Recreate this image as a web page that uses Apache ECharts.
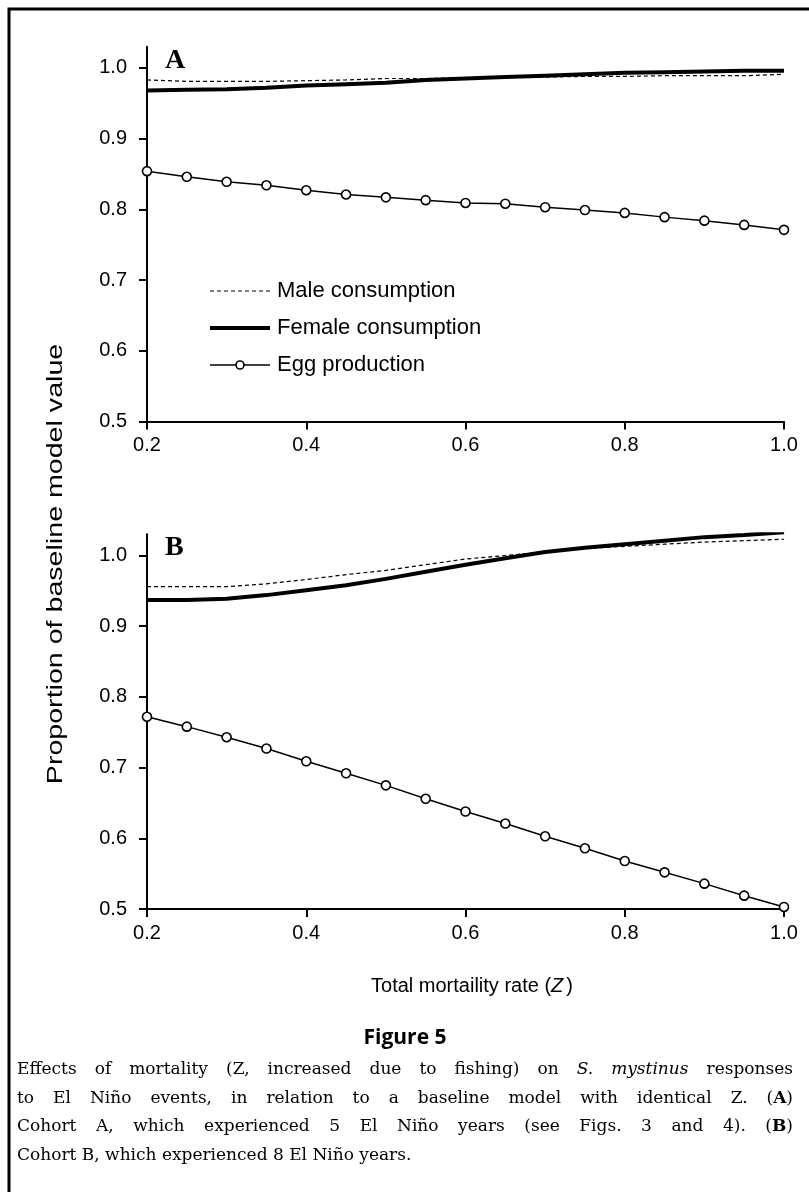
<!DOCTYPE html>
<html><head><meta charset="utf-8">
<script src="https://cdn.jsdelivr.net/npm/echarts@6/dist/echarts.min.js"></script>
<style>html,body{margin:0;padding:0;background:#fff}#c{width:809px;height:1192px}</style>
</head><body><div id="c"></div>
<script>
// ---- data ----
const zValues = [0.2,0.25,0.3,0.35,0.4,0.45,0.5,0.55,0.6,0.65,0.7,0.75,0.8,0.85,0.9,0.95,1.0];
const maleA   = [0.983,0.981,0.981,0.981,0.982,0.983,0.985,0.985,0.986,0.987,0.987,0.988,0.988,0.989,0.989,0.989,0.991];
const femaleA = [0.968,0.969,0.970,0.972,0.975,0.977,0.979,0.983,0.985,0.987,0.989,0.991,0.993,0.994,0.995,0.996,0.996];
const eggA    = [0.854,0.846,0.839,0.834,0.827,0.821,0.817,0.813,0.809,0.808,0.803,0.799,0.795,0.789,0.784,0.778,0.771];
const maleB   = [0.956,0.956,0.956,0.960,0.966,0.973,0.979,0.987,0.995,1.000,1.005,1.010,1.013,1.016,1.019,1.021,1.023];
const femaleB = [0.937,0.937,0.939,0.944,0.951,0.958,0.967,0.977,0.987,0.996,1.005,1.011,1.016,1.021,1.026,1.029,1.033];
const eggB    = [0.772,0.758,0.743,0.727,0.709,0.692,0.675,0.656,0.638,0.621,0.603,0.586,0.568,0.552,0.536,0.519,0.503];
const xTicks = [0.2,0.4,0.6,0.8,1.0];
const yTicks = [0.5,0.6,0.7,0.8,0.9,1.0];
const seriesNames = ['Male consumption','Female consumption','Egg production'];
const panelLabels = ['A','B'];
const yAxisTitle = 'Proportion of baseline model value';
const figureTitle = 'Figure 5';
const captionLines = [
  'Effects of mortality (Z, increased due to fishing) on {i|S.} {i|mystinus} responses',
  'to El Niño events, in relation to a baseline model with identical Z. ({b|A})',
  'Cohort A, which experienced 5 El Niño years (see Figs. 3 and 4). ({b|B})',
  'Cohort B, which experienced 8 El Niño years.'
];

const pair = arr => zValues.map((z,i)=>[z, arr[i]]);
const chart = echarts.init(document.getElementById('c'), null, {renderer:'canvas'});
const SANS = 'Liberation Sans';

function xAxis(i){
  return {type:'value', gridIndex:i, min:0.2, max:1.0,
    axisLine:{show:true, onZero:false, lineStyle:{color:'#000', width:2}},
    axisTick:{show:true, length:8, customValues:xTicks, lineStyle:{color:'#000', width:2}},
    axisLabel:{customValues:xTicks, formatter:v=>v.toFixed(1), color:'#000', fontSize:20, fontFamily:SANS, margin:14},
    splitLine:{show:false}};
}
function yAxis(i){
  return {type:'value', gridIndex:i, min:0.5, max:1.03,
    axisLine:{show:true, lineStyle:{color:'#000', width:2}},
    axisTick:{show:true, length:8, customValues:yTicks, lineStyle:{color:'#000', width:2}},
    axisLabel:{customValues:yTicks, formatter:v=>v.toFixed(1), color:'#000', fontSize:20, fontFamily:SANS, margin:20},
    splitLine:{show:false}};
}
function seriesFor(i, male, female, egg){
  return [
    {name:seriesNames[0], type:'line', xAxisIndex:i, yAxisIndex:i, data:pair(male), symbol:'none', color:'#000',
     lineStyle:{color:'#000', width:1.2, type:[4,3]}, z:3},
    {name:seriesNames[1], type:'line', xAxisIndex:i, yAxisIndex:i, data:pair(female), symbol:'none', color:'#000',
     lineStyle:{color:'#000', width:4}, z:2},
    {name:seriesNames[2], type:'line', xAxisIndex:i, yAxisIndex:i, data:pair(egg), symbol:'circle', symbolSize:9,
     showAllSymbol:true, lineStyle:{color:'#000', width:1.5},
     itemStyle:{color:'#fff', borderColor:'#000', borderWidth:1.6}, z:4}
  ];
}

// caption justification
const cv = document.createElement('canvas').getContext('2d');
const CAP_FAM = '"DejaVu Serif"';
const CAP_SIZE = 17;
const capFonts = {n:`${CAP_SIZE}px ${CAP_FAM}`, i:`italic ${CAP_SIZE}px ${CAP_FAM}`, b:`bold ${CAP_SIZE}px ${CAP_FAM}`};
const capRich = {
  n:{fontFamily:'DejaVu Serif', fontSize:CAP_SIZE, fill:'#000'},
  i:{fontFamily:'DejaVu Serif', fontSize:CAP_SIZE, fontStyle:'italic', fill:'#000'},
  b:{fontFamily:'DejaVu Serif', fontSize:CAP_SIZE, fontWeight:'bold', fill:'#000'}
};
function parseWord(w){
  const segs=[]; const re=/\{(\w)\|([^}]*)\}|([^{]+)/g; let m;
  while((m=re.exec(w))){ if(m[3]) segs.push(['n',m[3]]); else segs.push([m[1],m[2]]); }
  return segs;
}
const CAP_L = 17, CAP_R = 793, CAP_Y0 = 1070, CAP_DY = 28.5;
const captionEls = [];
captionLines.forEach((line, li)=>{
  const words = line.split(' ').map(parseWord);
  const widths = words.map(segs=>segs.reduce((s,[k,t])=>{cv.font=capFonts[k]; return s+cv.measureText(t).width;},0));
  const total = widths.reduce((a,b)=>a+b,0);
  cv.font = capFonts.n; const sp = cv.measureText(' ').width;
  const last = li === captionLines.length-1;
  const gap = last ? sp : (CAP_R-CAP_L-total)/(words.length-1);
  let x = CAP_L;
  words.forEach((segs, wi)=>{
    captionEls.push({type:'text', x:x, y:CAP_Y0+li*CAP_DY, silent:true,
      style:{text:segs.map(([k,t])=>`{${k}|${t}}`).join(''), rich:capRich, verticalAlign:'middle', align:'left',
             fontFamily:'DejaVu Serif', fontSize:CAP_SIZE, fill:'#000'}});
    x += widths[wi] + gap;
  });
});

const option = {
  animation:false,
  backgroundColor:'#fff',
  grid:[
    {left:147, right:25, top:46.7, height:374.8, containLabel:false, outerBoundsMode:'none'},
    {left:147, right:25, top:534.3, height:374.8, containLabel:false, outerBoundsMode:'none'}
  ],
  xAxis:[xAxis(0), xAxis(1)],
  yAxis:[yAxis(0), yAxis(1)],
  legend:{
    show:true, orient:'vertical', left:203, top:275, itemWidth:60, itemHeight:10, itemGap:15,
    textStyle:{fontSize:22, fontFamily:SANS, color:'#000', padding:[0,0,0,2]},
    selectedMode:false,
    data:[
      {name:seriesNames[0], lineStyle:{color:'#000', width:1.2, type:[4,3]}, itemStyle:{opacity:0}},
      {name:seriesNames[1], lineStyle:{color:'#000', width:4}, itemStyle:{opacity:0}},
      {name:seriesNames[2], lineStyle:{color:'#000', width:1.5}, itemStyle:{color:'#fff', borderColor:'#000', borderWidth:1.6}}
    ]
  },
  series:[...seriesFor(0, maleA, femaleA, eggA), ...seriesFor(1, maleB, femaleB, eggB)],
  graphic:[
    {type:'rect', shape:{x:9, y:9, width:900, height:1300}, style:{fill:'none', stroke:'#000', lineWidth:3}, silent:true, z:-1},
    {type:'text', x:165, y:61, style:{text:panelLabels[0], fontFamily:'Liberation Serif', fontWeight:'bold', fontSize:28, fill:'#000', verticalAlign:'middle'}},
    {type:'text', x:165, y:548, style:{text:panelLabels[1], fontFamily:'Liberation Serif', fontWeight:'bold', fontSize:28, fill:'#000', verticalAlign:'middle'}},
    {type:'text', x:56, y:564, rotation:Math.PI/2, scaleX:1.3, style:{text:yAxisTitle, fontFamily:SANS, fontSize:22, fill:'#000', align:'center', verticalAlign:'middle'}},
    {type:'text', x:472, y:986, style:{text:'Total mortaility rate ({i|Z})', align:'center', verticalAlign:'middle', fontFamily:SANS, fontSize:20, fill:'#000',
       rich:{i:{fontFamily:SANS, fontSize:20, fontStyle:'italic', fill:'#000', padding:[0,3,0,0]}}}},
    {type:'text', x:405, y:1038, style:{text:figureTitle, fontFamily:'Open Sans', fontWeight:'bold', fontSize:21, fill:'#000', align:'center', verticalAlign:'middle'}},
    ...captionEls
  ]
};
chart.setOption(option);
</script></body></html>
